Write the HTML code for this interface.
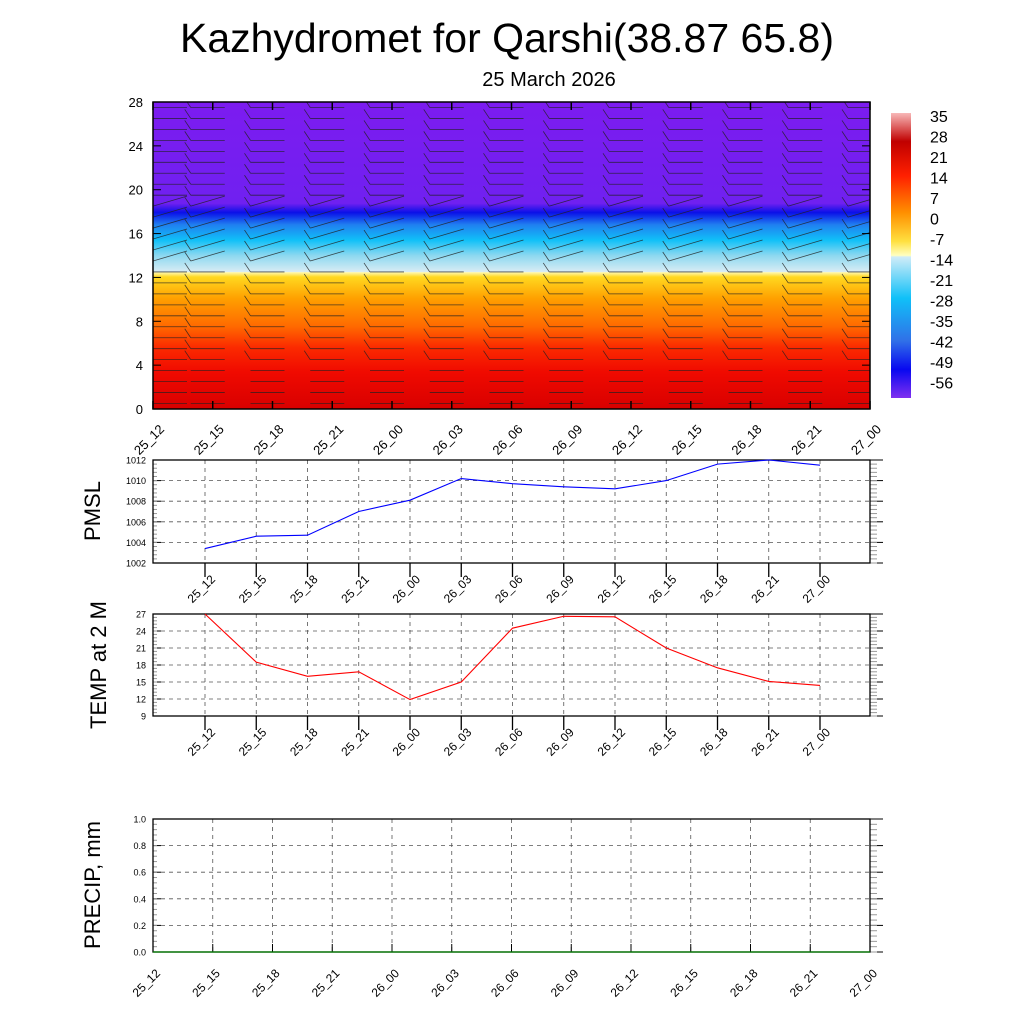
<!DOCTYPE html>
<html><head><meta charset="utf-8"><style>
body{margin:0;background:#fff;font-family:"Liberation Sans",sans-serif}
svg text{font-family:"Liberation Sans",sans-serif}
</style></head><body>
<svg id="s" width="1024" height="1024" viewBox="0 0 1024 1024">
<defs>
<linearGradient id="tg" x1="0" y1="1" x2="0" y2="0">
<stop offset="0" stop-color="#d80000"/>
<stop offset="0.12" stop-color="#f00a00"/>
<stop offset="0.2" stop-color="#fb2a00"/>
<stop offset="0.27" stop-color="#ff6a00"/>
<stop offset="0.36" stop-color="#ffa000"/>
<stop offset="0.43" stop-color="#ffd820"/>
<stop offset="0.445" stop-color="#fff8b0"/>
<stop offset="0.447" stop-color="#d8ecf4"/>
<stop offset="0.5" stop-color="#8cd8f0"/>
<stop offset="0.55" stop-color="#10c0f8"/>
<stop offset="0.6" stop-color="#2080f0"/>
<stop offset="0.64" stop-color="#0a10e8"/>
<stop offset="0.67" stop-color="#7020f0"/>
<stop offset="1" stop-color="#7c1cf0"/>
</linearGradient>
<linearGradient id="cb" x1="0" y1="0" x2="0" y2="1">
<stop offset="0" stop-color="#f8b8b8"/>
<stop offset="0.1" stop-color="#c00000"/>
<stop offset="0.22" stop-color="#ff2000"/>
<stop offset="0.35" stop-color="#ff9000"/>
<stop offset="0.45" stop-color="#ffe040"/>
<stop offset="0.5" stop-color="#ffffc0"/>
<stop offset="0.505" stop-color="#d0ecf8"/>
<stop offset="0.65" stop-color="#10c0f8"/>
<stop offset="0.8" stop-color="#3070e8"/>
<stop offset="0.9" stop-color="#0808f0"/>
<stop offset="1" stop-color="#8030f0"/>
</linearGradient>
<clipPath id="cp"><rect x="153" y="102" width="717" height="307"/></clipPath>
</defs>
<text x="507" y="52" font-size="41" text-anchor="middle">Kazhydromet for Qarshi(38.87 65.8)</text>
<text x="549" y="86" font-size="20" text-anchor="middle">25 March 2026</text>
<rect x="153" y="102" width="717" height="307" fill="url(#tg)"/>
<g id="barbs" stroke="#222" stroke-width="0.8" stroke-opacity="0.8" fill="none" clip-path="url(#cp)"></g>
<rect x="153" y="102" width="717" height="307" fill="none" stroke="#000" stroke-width="1.5"/>
<g id="topax"></g>
<rect x="891" y="113" width="20" height="285" fill="url(#cb)"/>
<g id="cbl" font-size="16"></g>
<g id="p1"></g>
<g id="p2"></g>
<g id="p3"></g>
</svg>
<script>
const times=["25_12","25_15","25_18","25_21","26_00","26_03","26_06","26_09","26_12","26_15","26_18","26_21","27_00"];
const pmsl=[1003.4,1004.6,1004.7,1007.0,1008.1,1010.2,1009.7,1009.4,1009.2,1010.0,1011.6,1012.0,1011.5];
const temp2m=[27.0,18.5,16.0,16.8,11.9,15.0,24.5,26.6,26.5,21.0,17.5,15.1,14.4];
const precip=[0,0,0,0,0,0,0,0,0,0,0,0,0];
const cbLabels=["35","28","21","14","7","0","-7","-14","-21","-28","-35","-42","-49","-56"];
const topTicks=[0,4,8,12,16,20,24,28];
const NS="http://www.w3.org/2000/svg";
function el(tag,attrs,parent,txt){const e=document.createElementNS(NS,tag);for(const k in attrs)e.setAttribute(k,attrs[k]);if(txt!==undefined)e.textContent=txt;parent.appendChild(e);return e;}
const ta=document.getElementById('topax');
const tx=i=>153+i*717/12, ty=v=>409-v/28*307;
topTicks.forEach(v=>{el('text',{x:143,y:ty(v)+5,'font-size':13,'text-anchor':'end'},ta,String(v));
 el('line',{x1:153,x2:161,y1:ty(v),y2:ty(v),stroke:'#000'},ta);el('line',{x1:862,x2:870,y1:ty(v),y2:ty(v),stroke:'#000'},ta);});
times.forEach((t,i)=>{const x=tx(i);el('line',{x1:x,x2:x,y1:409,y2:401,stroke:'#000','stroke-width':1.5},ta);el('line',{x1:x,x2:x,y1:102,y2:110,stroke:'#000','stroke-width':1.5},ta);
 el('text',{'font-size':13,'text-anchor':'end',transform:`translate(${x+12},${430}) rotate(-45)`},ta,t);});
const bg=document.getElementById('barbs');
for(let i=0;i<13;i++){for(let k=0;k<28;k++){const x=tx(i)-(i==0?0:22), y=ty(k+0.5);
 const dy=(k>12&&k<19)?10:0;
 const l=el('line',{x1:x,y1:y,x2:x+34,y2:y-dy},bg);
 
 if(k>3) el('line',{x1:x,y1:y,x2:x-6,y2:y-9},bg);}}
const cbg=document.getElementById('cbl');
cbLabels.forEach((s,i)=>el('text',{x:930,y:122+i*20.5},cbg,s));
function panel(id,top,h,min,max,step,vals,color,fmt){
 const g=document.getElementById(id);const bot=top+h;
 const y=v=>bot-(v-min)/(max-min)*h;
 const x=i=>205+i*51.25;
 for(let v=min;v<=max+1e-9;v+=step){el('text',{x:146,y:y(v)+3.5,'font-size':9,'text-anchor':'end'},g,fmt(v));
  if(v>min&&v<max)el('line',{x1:153,x2:870,y1:y(v),y2:y(v),stroke:'#555','stroke-dasharray':'4,4','stroke-width':0.8},g);
  el('line',{x1:153,x2:161,y1:y(v),y2:y(v),stroke:'#000'},g);el('line',{x1:870,x2:883,y1:y(v),y2:y(v),stroke:'#000'},g);}
 for(let m=0;m<(max-min)/step*5;m++){const yy=y(min+m*step/5);el('line',{x1:153,x2:157,y1:yy,y2:yy,stroke:'#999'},g);el('line',{x1:870,x2:877,y1:yy,y2:yy,stroke:'#999'},g);}
 times.forEach((t,i)=>{const xx=x(i);el('line',{x1:xx,x2:xx,y1:top,y2:bot,stroke:'#555','stroke-dasharray':'4,4','stroke-width':0.8},g);
  el('line',{x1:xx,x2:xx,y1:bot,y2:bot+14,stroke:'#000','stroke-width':1.3},g);
  el('text',{'font-size':12,'text-anchor':'end',transform:`translate(${xx+11},${bot+17}) rotate(-45)`},g,t);});
 el('rect',{x:153,y:top,width:717,height:h,fill:'none',stroke:'#000','stroke-width':1.3},g);
 const p=el('polyline',{points:vals.map((v,i)=>x(i)+','+y(v)).join(' '),fill:'none',stroke:color,'stroke-width':1.1},g);
 
}
panel('p1',460,103,1002,1012,2,pmsl,'#0000ff',v=>String(Math.round(v)));
panel('p2',614,102,9,27,3,temp2m,'#ff0000',v=>String(Math.round(v)));
el('text',{'font-size':22,'text-anchor':'middle',transform:'translate(100,511) rotate(-90)'},document.getElementById('p1'),'PMSL');
el('text',{'font-size':22,'text-anchor':'middle',transform:'translate(106,665) rotate(-90)'},document.getElementById('p2'),'TEMP at 2 M');
(function(){const g=document.getElementById('p3');const top=819,h=133,bot=952;const y=v=>bot-v*h;
 for(let k=0;k<=5;k++){const v=k*0.2;el('text',{x:146,y:y(v)+3.5,'font-size':9,'text-anchor':'end'},g,v.toFixed(1));
  if(k>0&&k<5)el('line',{x1:153,x2:870,y1:y(v),y2:y(v),stroke:'#555','stroke-dasharray':'4,4','stroke-width':0.8},g);
  el('line',{x1:153,x2:161,y1:y(v),y2:y(v),stroke:'#000'},g);el('line',{x1:870,x2:883,y1:y(v),y2:y(v),stroke:'#000'},g);}
 for(let m=0;m<25;m++){const yy=y(m*0.04);el('line',{x1:153,x2:157,y1:yy,y2:yy,stroke:'#999'},g);el('line',{x1:870,x2:877,y1:yy,y2:yy,stroke:'#999'},g);}
 const x=i=>153+i*717/12;
 times.forEach((t,i)=>{const xx=x(i);if(i>0&&i<12)el('line',{x1:xx,x2:xx,y1:top,y2:bot,stroke:'#555','stroke-dasharray':'4,4','stroke-width':0.8},g);
  el('line',{x1:xx,x2:xx,y1:bot,y2:bot-8,stroke:'#000'},g);
  el('text',{'font-size':12,'text-anchor':'end',transform:`translate(${xx+8},${bot+22}) rotate(-45)`},g,t);});
 el('rect',{x:153,y:top,width:717,height:h,fill:'none',stroke:'#000','stroke-width':1.3},g);
 const p=el('polyline',{points:precip.map((v,i)=>x(i)+','+y(v)).join(' '),fill:'none',stroke:'#008000','stroke-width':1.2},g);
 
 el('text',{'font-size':22,'text-anchor':'middle',transform:'translate(100,885) rotate(-90)'},g,'PRECIP, mm');
})();
</script>
</body></html>
